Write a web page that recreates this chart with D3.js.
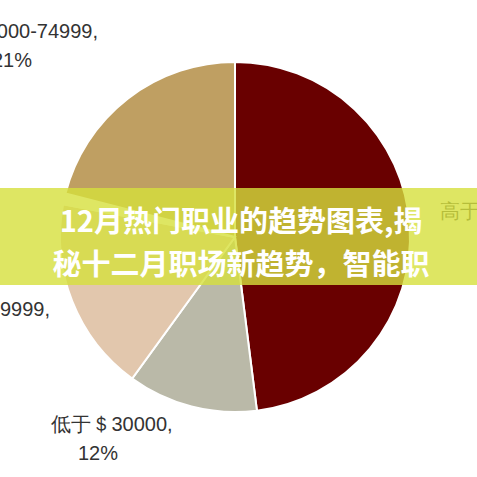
<!DOCTYPE html>
<html><head><meta charset="utf-8">
<script src="https://cdn.jsdelivr.net/npm/d3@7"></script>
<style>body{margin:0;background:#fff}svg{display:block}</style>
</head><body>
<script>
const W = 477, H = 477;

const categories = ["高于＄100000", "低于＄30000", "＄30000-49999", "＄75000-99999", "＄50000-74999"];
const values = [48, 12, 18, 1, 21];
const colors = ["#690000", "#bab9a8", "#e2c7ad", "#ffffff", "#bf9f62"];
const titleLines = ["12月热门职业的趋势图表,揭", "秘十二月职场新趋势，智能职"];

const svg = d3.select("body").append("svg").attr("width", W).attr("height", H);

const cx = 235, cy = 237, R = 175;
const pie = d3.pie().sort(null).value(d => d)(values);
const arc = d3.arc().innerRadius(0).outerRadius(R);

const g = svg.append("g").attr("transform", `translate(${cx},${cy})`);
g.selectAll("path").data(pie).join("path")
    .attr("d", arc)
    .attr("fill", (d, i) => colors[i])
    .attr("stroke", "#fff")
    .attr("stroke-width", 2);

const FONT = "Liberation Sans, Arial, sans-serif";

// labels: [line1, line2, x1 end, x2 end, y]
const labels = [
    [categories[4] + ",", values[4] + "%", 98, 32, 38],
    [categories[2] + ",", values[2] + "%", 50, -5, 316],
    [categories[3] + ",", values[3] + "%", -5, -5, 200]
];
labels.forEach(l => {
    const t = svg.append("text")
        .attr("font-family", FONT)
        .attr("font-size", 20).attr("fill", "#333").attr("text-anchor", "end");
    t.append("tspan").attr("x", l[2]).attr("y", l[4]).text(l[0]);
    t.append("tspan").attr("x", l[3]).attr("y", l[4] + 29).text(l[1]);
});
const bl = svg.append("text")
    .attr("font-family", FONT)
    .attr("font-size", 20).attr("fill", "#333").attr("text-anchor", "middle");
bl.append("tspan").attr("x", 112).attr("y", 431).text(categories[1] + ",");
bl.append("tspan").attr("x", 98).attr("y", 460).text(values[1] + "%");
svg.append("text")
    .attr("x", 440).attr("y", 218)
    .attr("font-family", FONT)
    .attr("font-size", 20).attr("fill", "#333")
    .text(categories[0] + ", " + values[0] + "%");

// banner
svg.append("rect").attr("x", 0).attr("y", 188).attr("width", W).attr("height", 97)
    .attr("fill", "rgb(214,224,60)").attr("opacity", 0.8);
titleLines.forEach((s, i) => {
    svg.append("text")
        .attr("x", 241).attr("y", 232 + i * 43)
        .attr("text-anchor", "middle")
        .attr("font-family", "Noto Sans CJK SC, sans-serif")
        .attr("font-weight", "bold").attr("font-size", 29)
        .attr("fill", "#fff").text(s);
});
</script>
</body></html>
